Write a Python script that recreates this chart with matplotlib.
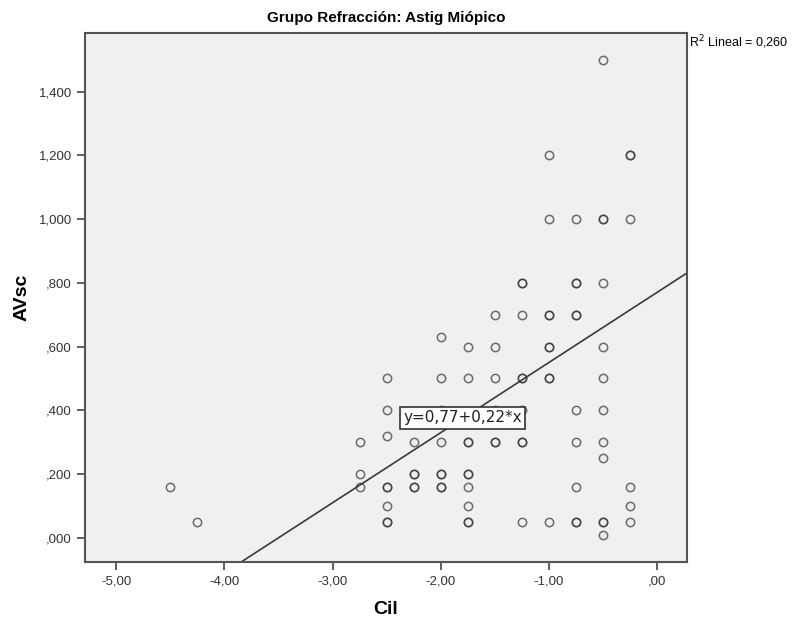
import matplotlib
matplotlib.use('Agg')
import matplotlib.pyplot as plt
from matplotlib.ticker import FuncFormatter

# Cil / AVsc pairs; repeated pairs are overlapping points
cil = [-4.5, -4.25,
       -2.75, -2.75, -2.75,
       -2.5, -2.5, -2.5, -2.5, -2.5, -2.5, -2.5, -2.5,
       -2.25, -2.25, -2.25, -2.25, -2.25,
       -2.0, -2.0, -2.0, -2.0, -2.0, -2.0, -2.0, -2.0,
       -1.75, -1.75, -1.75, -1.75, -1.75, -1.75, -1.75, -1.75, -1.75, -1.75,
       -1.5, -1.5, -1.5, -1.5, -1.5, -1.5,
       -1.25, -1.25, -1.25, -1.25, -1.25, -1.25, -1.25, -1.25, -1.25,
       -1.0, -1.0, -1.0, -1.0, -1.0, -1.0, -1.0, -1.0, -1.0,
       -0.75, -0.75, -0.75, -0.75, -0.75, -0.75, -0.75, -0.75, -0.75, -0.75,
       -0.5, -0.5, -0.5, -0.5, -0.5, -0.5, -0.5, -0.5, -0.5, -0.5, -0.5,
       -0.5,
       -0.25, -0.25, -0.25, -0.25, -0.25, -0.25]
avsc = [0.16, 0.05,
        0.30, 0.20, 0.16,
        0.50, 0.40, 0.32, 0.16, 0.16, 0.10, 0.05, 0.05,
        0.30, 0.20, 0.20, 0.16, 0.16,
        0.63, 0.50, 0.40, 0.30, 0.20, 0.20, 0.16, 0.16,
        0.60, 0.50, 0.30, 0.30, 0.20, 0.20, 0.16, 0.10, 0.05, 0.05,
        0.70, 0.60, 0.50, 0.40, 0.30, 0.30,
        0.80, 0.80, 0.70, 0.50, 0.50, 0.40, 0.30, 0.30, 0.05,
        1.20, 1.00, 0.70, 0.70, 0.60, 0.60, 0.50, 0.50, 0.05,
        1.00, 0.80, 0.80, 0.70, 0.70, 0.40, 0.30, 0.16, 0.05, 0.05,
        1.50, 1.00, 1.00, 0.80, 0.60, 0.50, 0.40, 0.30, 0.25, 0.05, 0.05,
        0.01,
        1.20, 1.20, 1.00, 0.16, 0.10, 0.05]
intercept = 0.77
slope = 0.22
r2_text = 'R$^2$ Lineal = 0,260'
eq_text = 'y=0,77+0,22*x'
x_ticks = [-5, -4, -3, -2, -1, 0]
y_ticks = [0, 0.2, 0.4, 0.6, 0.8, 1.0, 1.2, 1.4]

plt.rcParams['font.family'] = ['Liberation Sans', 'DejaVu Sans']

fig = plt.figure(figsize=(7.98, 6.19), dpi=100)
ax = fig.add_axes([0.1065, 0.0921, 0.7544, 0.8546])
ax.set_facecolor('#f0f0f0')

ax.plot(cil, avsc, 'o', ms=6, mfc='none', mec='#333333',
        mew=1.1, alpha=0.7, zorder=3)

xlim = (-5.29, 0.277)
ylim = (-0.076, 1.584)
ax.plot(xlim, [intercept + slope * v for v in xlim], color='#3a3a3a',
        lw=1.2, zorder=2)
ax.set_xlim(xlim)
ax.set_ylim(ylim)

ax.text(-1.80, 0.376, eq_text, ha='center', va='center', fontsize=11,
        family='DejaVu Sans', color='#222222', zorder=4,
        bbox=dict(boxstyle='square,pad=0.2', fc='white', ec='#333333',
                  lw=1.2))


# SPSS style: comma decimals, no leading zero
def spss_fmt(digits):
    def f(v, pos):
        s = f'{v:.{digits}f}'
        if s.startswith('0.'):
            s = s[1:]
        elif s.startswith('-0.'):
            s = '-' + s[2:]
        return s.replace('.', ',')
    return FuncFormatter(f)


ax.set_xticks(x_ticks)
ax.set_yticks(y_ticks)
ax.xaxis.set_major_formatter(spss_fmt(2))
ax.yaxis.set_major_formatter(spss_fmt(3))
ax.tick_params(colors='#444444', labelcolor='#333333', labelsize=9.5,
               length=6, width=1.2)

for sp in ax.spines.values():
    sp.set_color('#555555')
    sp.set_linewidth(1.5)

ax.set_title('Grupo Refracción: Astig Miópico', fontsize=11,
             fontweight='bold', pad=8)
ax.set_xlabel('Cil', fontsize=14, fontweight='bold', labelpad=10)
ax.set_ylabel('AVsc', fontsize=14, fontweight='bold', labelpad=20)
ax.yaxis.set_label_coords(-0.09, 0.5)
fig.text(0.863, 0.932, r2_text, fontsize=9, ha='left', va='center')

fig.savefig('out.png', dpi=100)
